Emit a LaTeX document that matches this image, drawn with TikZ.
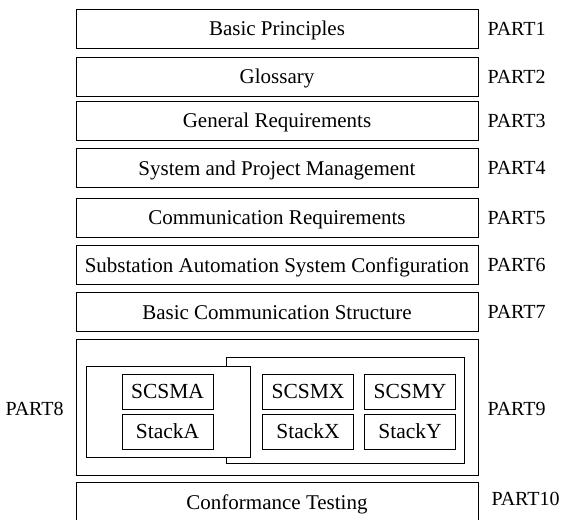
\documentclass[tikz,border=0pt]{standalone}
\usepackage{fontspec}
\setmainfont{Liberation Serif}
\usepackage{tikz}
\usetikzlibrary{shapes,arrows}
\tikzstyle{block} = [rectangle, draw, text centered, inner sep=0pt, text height=14pt, text depth=0pt,
minimum width=402pt, minimum height=39pt, font=\fontsize{21}{25}\selectfont]
\tikzstyle{frame} = [rectangle, draw, fill=white, inner sep=0pt]
\tikzstyle{small} = [rectangle, draw, text centered, inner sep=0pt, text height=14.2pt, text depth=0pt,
minimum width=91pt, minimum height=35pt, font=\fontsize{21.5}{25}\selectfont]
\tikzstyle{part} = [anchor=west, inner sep=0pt, text height=13.2pt, text depth=0pt,
font=\fontsize{20}{24}\selectfont]

\begin{document}
\begin{tikzpicture}[x=1pt, y=-1pt, line width=1pt]
	\useasboundingbox (0,0) rectangle (564,519);
	\node [block] (principles) at (277,29) {Basic Principles};
	\node [block] (glossary) at (277,76.5) {Glossary};
	\node [block] (general) at (277,120.5) {General Requirements};
	\node [block] (management) at (277,168) {System and Project Management};
	\node [block] (comreq) at (277,217.5) {Communication Requirements};
	\node [block] (config) at (277,265) {Substation Automation System Configuration};
	\node [block] (structure) at (277,312) {Basic Communication Structure};
	\node [block, minimum height=136pt] (mapping) at (277,407) {};
	\node [block] (testing) at (277,502) {Conformance Testing};
	
	% the two mapping groups, A on top of X/Y
	\node [frame, minimum width=238pt, minimum height=106pt] (groupxy) at (345,410) {};
	\node [frame, minimum width=164pt, minimum height=91pt] (groupa) at (168,411.5) {};
	
	\node [small] (scsma) at (167.5,391.5) {SCSMA};
	\node [small, below of=scsma, node distance=40pt] (stacka) {StackA};
	\node [small] (scsmx) at (308,391.5) {SCSMX};
	\node [small, below of=scsmx, node distance=40pt] (stackx) {StackX};
	\node [small, right of=scsmx, node distance=102pt] (scsmy) {SCSMY};
	\node [small, below of=scsmy, node distance=40pt] (stacky) {StackY};
	
	\node [part] (p1) at (487,29) {PART1};
	\node [part] (p2) at (487,76.5) {PART2};
	\node [part] (p3) at (487,120.5) {PART3};
	\node [part] (p4) at (487,168) {PART4};
	\node [part] (p5) at (487,217.5) {PART5};
	\node [part] (p6) at (487,265) {PART6};
	\node [part] (p7) at (487,312) {PART7};
	\node [part] (p8) at (5,409) {PART8};
	\node [part] (p9) at (487,409) {PART9};
	\node [part] (p10) at (491,499) {PART10};
	
\end{tikzpicture}
\end{document}
